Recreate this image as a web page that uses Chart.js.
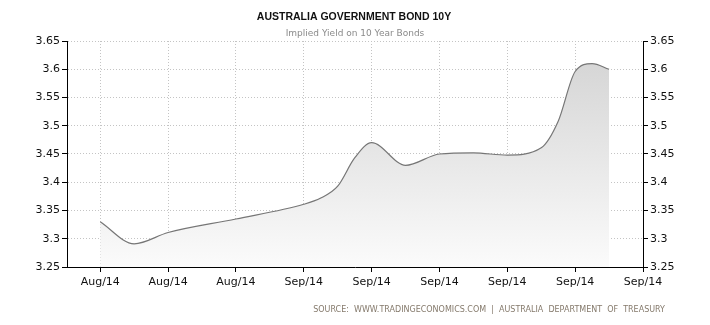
<!DOCTYPE html>
<html>
<head>
<meta charset="utf-8">
<script src="https://cdn.jsdelivr.net/npm/chart.js@4/dist/chart.umd.min.js"></script>
<style>
  html, body { margin: 0; padding: 0; background: #fff; }
  #wrap { position: relative; width: 710px; height: 325px; }
  #source {
    position: absolute; left: 0; right: 45px; top: 305px;
    text-align: right; font: 8px "DejaVu Sans", sans-serif;
    letter-spacing: 0; color: #857a6c; white-space: pre;
  }
</style>
</head>
<body>
<div id="wrap">
  <canvas id="c" width="710" height="325"></canvas>
  <div id="source">SOURCE:  WWW.TRADINGECONOMICS.COM  |  AUSTRALIA  DEPARTMENT  OF  TREASURY</div>
</div>
<script>
// Days counted from 20 Aug 2014
const days   = [0, 2, 4, 8, 12, 13, 14, 15, 16, 18, 20, 22, 24, 26, 27, 28, 29, 30];
const yields = [3.330, 3.291, 3.311, 3.335, 3.361, 3.372, 3.393, 3.443, 3.470, 3.430,
                3.450, 3.452, 3.448, 3.461, 3.508, 3.596, 3.610, 3.600];
// Tick labels for the x axis, one every four days
const xTickLabels = ['Aug/14', 'Aug/14', 'Aug/14', 'Sep/14', 'Sep/14', 'Sep/14', 'Sep/14', 'Sep/14', 'Sep/14'];
const yTickLabels = ['3.25', '3.3', '3.35', '3.4', '3.45', '3.5', '3.55', '3.6', '3.65'];

const points = days.map((d, i) => ({ x: d, y: yields[i] }));

const tickFont = { family: 'DejaVu Sans', size: 11 };

function yAxis(position, drawGrid) {
  return {
    position: position,
    min: 3.25, max: 3.65,
    afterFit: s => { s.width = 67; },
    afterBuildTicks: s => { s.ticks = yTickLabels.map(t => ({ value: parseFloat(t) })); },
    ticks: {
      color: '#111', font: tickFont, padding: 2,
      callback: (v, i) => yTickLabels[i]
    },
    border: { display: true, color: '#000', width: 1, dash: [1, 2] },
    grid: {
      display: true, drawOnChartArea: drawGrid, color: '#c4c4c4', lineWidth: 1,
      tickColor: '#000', tickLength: 5, tickBorderDash: [], tickWidth: 1
    }
  };
}

new Chart(document.getElementById('c'), {
  type: 'line',
  data: {
    datasets: [{
      data: points,
      borderColor: '#767676',
      borderWidth: 1.2,
      pointRadius: 0,
      cubicInterpolationMode: 'monotone',
      fill: 'start',
      backgroundColor: ctx => {
        const area = ctx.chart.chartArea;
        if (!area) return '#e8e8e8';
        const g = ctx.chart.ctx.createLinearGradient(0, area.top, 0, area.bottom);
        g.addColorStop(0, '#d2d2d2');
        g.addColorStop(1, '#fbfbfb');
        return g;
      }
    }]
  },
  options: {
    responsive: false,
    animation: false,
    layout: { padding: { top: 41, bottom: 33, left: 0, right: 0 } },
    plugins: {
      legend: { display: false },
      tooltip: { enabled: false },
      title: { display: false }
    },
    scales: {
      x: {
        type: 'linear',
        min: -1.96, max: 32,
        afterFit: s => { s.height = 25; },
        ticks: {
          stepSize: 4, includeBounds: false, color: '#111', font: tickFont, padding: 4,
          maxRotation: 0, autoSkip: false,
          callback: (v, i) => xTickLabels[i]
        },
        border: { display: true, color: '#000', width: 1, dash: [1, 2] },
        grid: {
          color: '#c4c4c4', lineWidth: 1,
          tickColor: '#000', tickLength: 5, tickBorderDash: [], tickWidth: 1
        }
      },
      y: yAxis('left', true),
      y2: yAxis('right', false)
    }
  },
  plugins: [{
    id: 'textTitles',
    afterDraw(chart) {
      const c = chart.ctx;
      c.save();
      c.textAlign = 'center';
      c.textBaseline = 'middle';
      c.fillStyle = '#111';
      c.font = 'bold 10.5px "Liberation Sans"';
      c.fillText('AUSTRALIA GOVERNMENT BOND 10Y', 354, 17);
      c.fillStyle = '#8a8a8a';
      c.font = '9px "DejaVu Sans"';
      c.fillText('Implied Yield on 10 Year Bonds', 355, 34);
      c.restore();
    }
  }]
});
</script>
</body>
</html>
